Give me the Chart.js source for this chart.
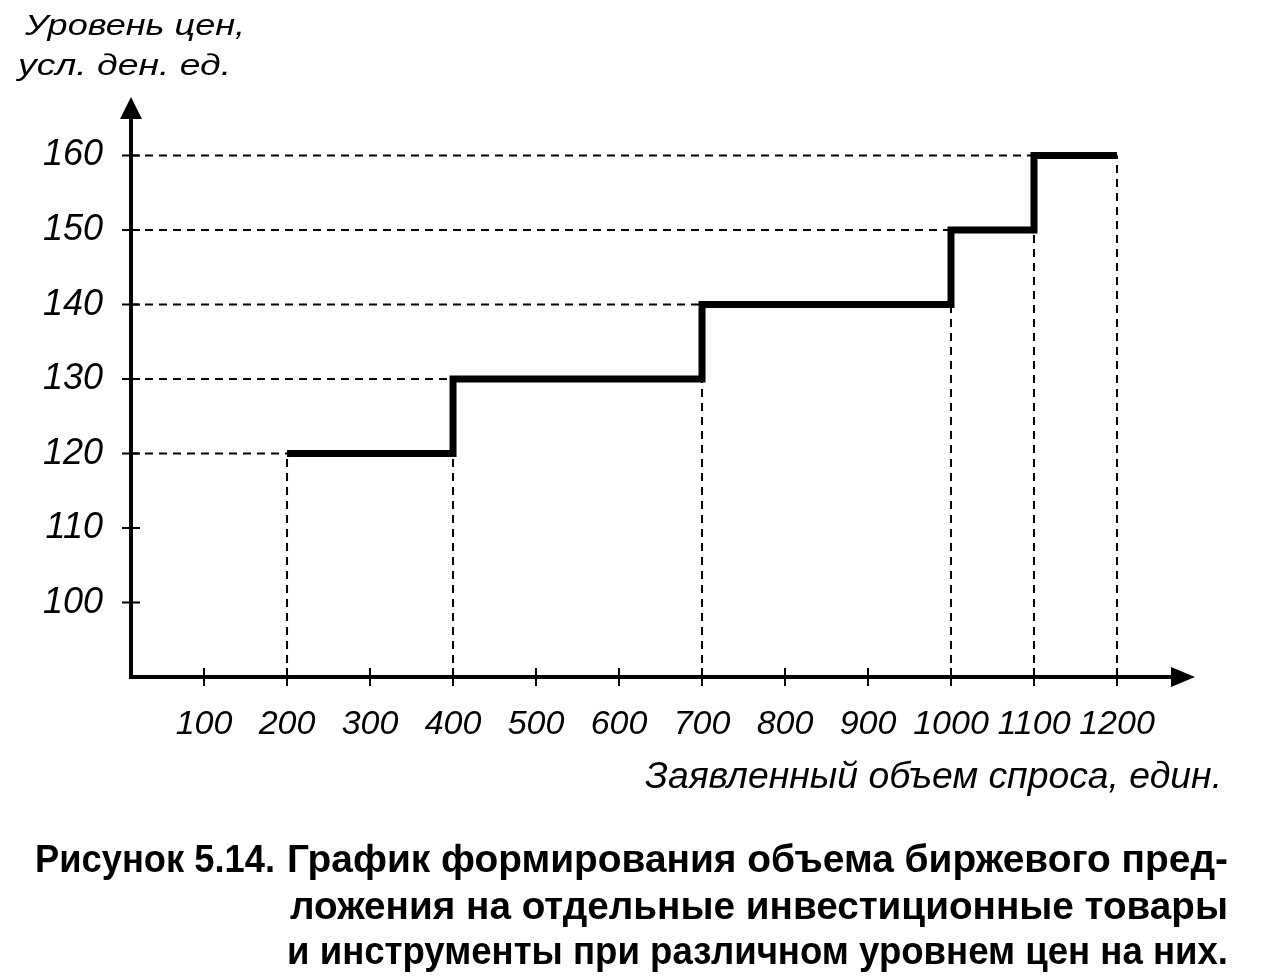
<!DOCTYPE html>
<html>
<head>
<meta charset="utf-8">
<script src="https://cdn.jsdelivr.net/npm/chart.js@4"></script>
<style>
html, body { margin: 0; padding: 0; background: #fff; }
</style>
</head>
<body>
<canvas id="myChart" width="1280" height="976"></canvas>
<script>
// data
const volumes = [200, 400, 700, 1000, 1100, 1200];
const prices = [120, 130, 140, 150, 160, 160];
const xTicks = [100, 200, 300, 400, 500, 600, 700, 800, 900, 1000, 1100, 1200];
const yTicks = [100, 110, 120, 130, 140, 150, 160];
const yTitle = ['Уровень цен,', 'усл. ден. ед.'];
const xTitle = 'Заявленный объем спроса, един.';
const captionLabel = 'Рисунок 5.14.';
const captionLines = [
    'График формирования объема биржевого пред-',
    'ложения на отдельные инвестиционные товары',
    'и инструменты при различном уровнем цен на них.'
];

const X_MIN = 12, X_MAX = 1294, Y_MIN = 90, Y_MAX = 167.85;
const FONT = "'Liberation Sans', Arial, sans-serif";

// step line
const stepData = volumes.map((v, i) => ({ x: v, y: prices[i] }));

// dashed guides
const guides = [];
for (let i = 0; i < volumes.length - 1; i++) {
    guides.push([{ x: X_MIN, y: prices[i] }, { x: volumes[i], y: prices[i] }]);
}
volumes.forEach((v, i) => {
    const top = i === 0 ? prices[0] : prices[i - 1];
    guides.push([{ x: v, y: Y_MIN }, { x: v, y: top }]);
});

const datasets = [{
    data: stepData,
    stepped: 'before',
    borderColor: '#000',
    borderWidth: 7,
    borderCapStyle: 'butt',
    borderJoinStyle: 'miter',
    pointRadius: 0,
    fill: false,
    order: 0
}];
guides.forEach(g => datasets.push({
    data: g,
    borderColor: '#000',
    borderWidth: 2,
    borderDash: [8, 6],
    pointRadius: 0,
    fill: false,
    order: 1
}));

function fitText(ctx, text, x0, x1, baseline, font) {
    ctx.save();
    ctx.font = font;
    ctx.textAlign = 'left';
    ctx.textBaseline = 'alphabetic';
    ctx.fillStyle = '#000';
    const w = ctx.measureText(text).width;
    ctx.translate(x0, baseline);
    ctx.scale((x1 - x0) / w, 1);
    ctx.fillText(text, 0, 0);
    ctx.restore();
}

const axesPlugin = {
    id: 'axesPlugin',
    afterDraw(chart) {
        const ctx = chart.ctx;
        const xs = chart.scales.x, ys = chart.scales.y;
        const ox = xs.getPixelForValue(X_MIN);
        const oy = ys.getPixelForValue(Y_MIN);
        const topY = ys.getPixelForValue(Y_MAX);
        const rightX = xs.getPixelForValue(X_MAX);
        ctx.save();
        ctx.strokeStyle = '#000';
        ctx.fillStyle = '#000';
        ctx.lineWidth = 4;
        ctx.beginPath();
        ctx.moveTo(ox, topY + 15);
        ctx.lineTo(ox, oy);
        ctx.lineTo(rightX - 15, oy);
        ctx.stroke();
        // arrows
        ctx.beginPath();
        ctx.moveTo(ox, topY);
        ctx.lineTo(ox - 11, topY + 22);
        ctx.lineTo(ox + 11, topY + 22);
        ctx.closePath();
        ctx.fill();
        ctx.beginPath();
        ctx.moveTo(rightX, oy);
        ctx.lineTo(rightX - 24, oy - 10);
        ctx.lineTo(rightX - 24, oy + 10);
        ctx.closePath();
        ctx.fill();
        // tick marks
        ctx.lineWidth = 2;
        yTicks.forEach(t => {
            const y = ys.getPixelForValue(t);
            ctx.beginPath();
            ctx.moveTo(ox - 9, y);
            ctx.lineTo(ox + 9, y);
            ctx.stroke();
        });
        xTicks.forEach(t => {
            const x = xs.getPixelForValue(t);
            ctx.beginPath();
            ctx.moveTo(x, oy - 9);
            ctx.lineTo(x, oy + 9);
            ctx.stroke();
        });
        ctx.restore();

        // titles
        const it = 'italic 30px ' + FONT;
        fitText(ctx, yTitle[0], 25, 245, 35, it);
        fitText(ctx, yTitle[1], 18, 231, 75, it);
        fitText(ctx, xTitle, 645, 1222, 788, 'italic 36px ' + FONT);

        // caption
        const bf = 'bold 38px ' + FONT;
        fitText(ctx, captionLabel, 35, 275, 872, bf);
        fitText(ctx, captionLines[0], 287, 1228, 872, bf);
        fitText(ctx, captionLines[1], 290, 1228, 919, bf);
        fitText(ctx, captionLines[2], 287, 1228, 964, bf);
    }
};

const config = {
    type: 'line',
    data: { datasets },
    options: {
        responsive: false,
        animation: false,
        layout: { padding: { top: 97, right: 85, left: 0, bottom: 0 } },
        plugins: { legend: { display: false }, tooltip: { enabled: false } },
        scales: {
            x: {
                type: 'linear',
                min: X_MIN,
                max: X_MAX,
                afterBuildTicks: s => { s.ticks = xTicks.map(v => ({ value: v })); },
                afterFit: s => { s.height = 299; },
                grid: { display: false, drawTicks: false },
                border: { display: false },
                ticks: {
                    color: '#000',
                    padding: 27,
                    maxRotation: 0,
                    autoSkip: false,
                    font: { family: FONT, size: 34, style: 'italic' },
                    callback: v => String(v)
                }
            },
            y: {
                type: 'linear',
                min: Y_MIN,
                max: Y_MAX,
                afterBuildTicks: s => { s.ticks = yTicks.map(v => ({ value: v })); },
                afterFit: s => { s.width = 131; },
                grid: { display: false, drawTicks: false },
                border: { display: false },
                ticks: {
                    color: '#000',
                    padding: 28,
                    autoSkip: false,
                    font: { family: FONT, size: 36, style: 'italic' },
                    callback: v => String(v)
                }
            }
        }
    },
    plugins: [axesPlugin]
};

const myChart = new Chart(document.getElementById('myChart'), config);
</script>
</body>
</html>
